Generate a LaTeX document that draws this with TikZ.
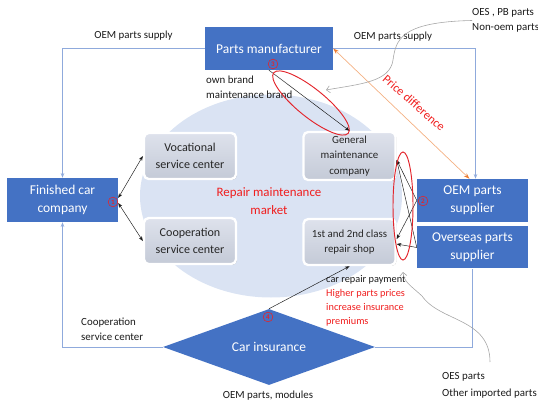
\documentclass[tikz,border=0pt]{standalone}
\usepackage{fontspec}
\setmainfont{Carlito}
\usepackage{xcolor}
\usepackage{tikz}
\usetikzlibrary{arrows.meta,positioning,shapes.geometric,calc,shadows}
\definecolor{boxblue}{HTML}{4472C4}
\definecolor{linkblue}{HTML}{8FAADC}
\definecolor{marketfill}{HTML}{DAE3F3}
\definecolor{svctop}{HTML}{DEE2EC}
\definecolor{svcbot}{HTML}{C4CAD7}
\definecolor{svctext}{HTML}{262626}
\definecolor{markred}{HTML}{E3242B}
\definecolor{pricered}{HTML}{F01E1E}
\definecolor{priceline}{HTML}{F4B183}
\definecolor{pricetip}{HTML}{ED7D31}
\definecolor{notegray}{HTML}{A6A6A6}
\definecolor{ink}{HTML}{1A1A1A}
\tikzset{
  blockbox/.style={
    rectangle, fill=boxblue, text=white,
    font=\fontsize{11.5}{15.5}\selectfont, align=center,
    inner sep=2pt
  },
  svcbox/.style={
    rectangle, rounded corners=4pt, draw=white, line width=2pt,
    top color=svctop, bottom color=svcbot, text=svctext,
    minimum width=2.76cm, minimum height=1.38cm,
    font=\fontsize{10.3}{14.5}\selectfont, align=center,
    drop shadow={shadow xshift=0.8pt, shadow yshift=-0.8pt,
      opacity=0.3, fill=black}
  },
  notelabel/.style={font=\fontsize{9.3}{12.8}\selectfont, text=ink,
    align=left, inner sep=0pt},
  oneway/.style={-{Stealth[length=4pt,width=3pt]}, line width=0.4pt,
    draw=#1},
  oneway/.default=ink,
  twoway/.style={{Stealth[length=4pt,width=3pt]}-{Stealth[length=4pt,width=3pt]},
    line width=0.4pt, draw=ink},
  supplyline/.style={line width=0.7pt, draw=linkblue},
  pricearrow/.style={{Stealth[length=5pt,width=3.5pt,color=pricetip]}-{Stealth[length=5pt,width=3.5pt,color=pricetip]},
    draw=priceline, line width=0.6pt},
  notecurve/.style={-{Straight Barb[length=3pt]}, draw=notegray,
    line width=0.5pt},
  markring/.style={draw=markred, line width=0.8pt},
  circnum/.style={circle, draw=markred, text=markred, line width=0.5pt,
    inner sep=0pt, minimum size=8.3pt,
    font=\fontsize{6}{6}\selectfont\bfseries},
}

\begin{document}
\begin{tikzpicture}[x=0.03cm, y=-0.03cm]
\useasboundingbox (0,0) rectangle (538,404);
% repair maintenance market backdrop
\fill[marketfill] (271,196) ellipse [x radius=131, y radius=101.5];

% main players
\node[blockbox, minimum width=3.84cm, minimum height=1.29cm] (partsman) at (269,48.5) {Parts manufacturer};
\node[blockbox, minimum width=3.33cm, minimum height=1.32cm] (finished) at (62.5,200) {Finished car\\company};
\node[blockbox, minimum width=3.33cm, minimum height=1.29cm] (oemsup) at (472.5,200.5) {OEM parts\\supplier};
\node[blockbox, minimum width=3.33cm, minimum height=1.26cm, below=0.12cm of oemsup] (overseas) {Overseas parts\\supplier};
\node[blockbox, diamond, aspect=2.79, minimum width=6.36cm, minimum height=2.28cm, inner sep=0pt] (insurance) at (269,347) {Car insurance};

% service points inside the market
\node[svcbox] (vocational) at (190,156) {Vocational\\service center};
\node[svcbox, below=1.1cm of vocational] (cooperation) {Cooperation\\service center};
\node[svcbox, font=\fontsize{9.3}{13.2}\selectfont] (general) at (349.5,156) {General\\maintenance\\company};
\node[svcbox, font=\fontsize{9.3}{13.2}\selectfont, below=1.1cm of general] (repair) {1st and 2nd class\\repair shop};
\node[font=\fontsize{11}{15.4}\selectfont, text=pricered, align=center] (market) at (269,201) {Repair maintenance\\market};

% labels
\node[notelabel] (supplyleft) at (133.5,36) {OEM parts supply};
\node[notelabel] (supplyright) at (393,37) {OEM parts supply};
\node[notelabel, anchor=west] (oespb) at (472,20.5) {OES , PB parts\\Non-oem parts};
\node[notelabel, anchor=west] (ownbrand) at (206,87.5) {own brand\\maintenance brand};
\node[notelabel, anchor=west] (coopnote) at (81,329) {Cooperation\\service center};
\node[notelabel, anchor=west, font=\fontsize{8.8}{12}\selectfont] (payment) at (326,300.5) {car repair payment\\\textcolor{pricered}{Higher parts prices}\\\textcolor{pricered}{increase insurance}\\\textcolor{pricered}{premiums}};
\node[notelabel] (modules) at (268,396) {OEM parts, modules};
\node[notelabel, anchor=west, font=\fontsize{9.3}{14.5}\selectfont] (oesother) at (442,385.5) {OES parts\\Other imported parts};
\node[font=\fontsize{10.5}{12}\selectfont, text=pricered, rotate=-41] (pricenote) at (414,103) {Price difference};

% supply lines
\draw[supplyline, -{Stealth[length=4pt,width=3pt]}] (partsman.west) -| (finished.north);
\draw[supplyline, -{Stealth[length=4pt,width=3pt]}] (partsman.east) -| ($(oemsup.north)+(3,0)$);
\draw[supplyline, -{Stealth[length=4pt,width=3pt]}] (insurance.west) -| (finished.south);
\draw[supplyline] (insurance.east) -| (overseas.south);
\draw[pricearrow] ($(oemsup.north)+(-3,0)$) -- (partsman.east);

% flows
\draw[twoway] ($(finished.east)+(0,-2)$) -- (vocational.west);
\draw[twoway] ($(finished.east)+(0,3)$) -- (cooperation.west);
\draw[oneway] (partsman.south) -- (general.north);
\draw[oneway] (oemsup.west) -- ($(general.east)+(0,4)$);
\draw[oneway] (overseas.west) -- ($(general.east)+(0,4)$);
\draw[oneway] (oemsup.west) -- ($(repair.east)+(0,-3)$);
\draw[oneway] (overseas.west) -- ($(repair.east)+(0,2)$);
\draw[oneway] (insurance.north) -- (repair.south);

% notes
\coordinate (brandtip) at (326,90);
\coordinate (shoptip) at (403,272);
\coordinate (oestail) at (490,362);
\draw[notecurve] (oespb.west) .. controls (400,22) and (396,40) .. (393,60)
  .. controls (390,82) and (360,84) .. (brandtip);
\draw[notecurve] (oestail) .. controls (490,318) and (440,322) .. (422,296)
  .. controls (410,285) and (404,282) .. (shoptip);

% marked groups
\draw[markring, rotate around={-39:(311,103)}] (311,103) ellipse [x radius=48, y radius=14];
\draw[markring] (403,206) ellipse [x radius=10, y radius=54];
\node[circnum] (n1) at (113,202) {1};
\node[circnum] (n2) at (423,201) {2};
\node[circnum] (n3) at (273,64) {3};
\node[circnum] (n4) at (268,317) {4};
\end{tikzpicture}
\end{document}
